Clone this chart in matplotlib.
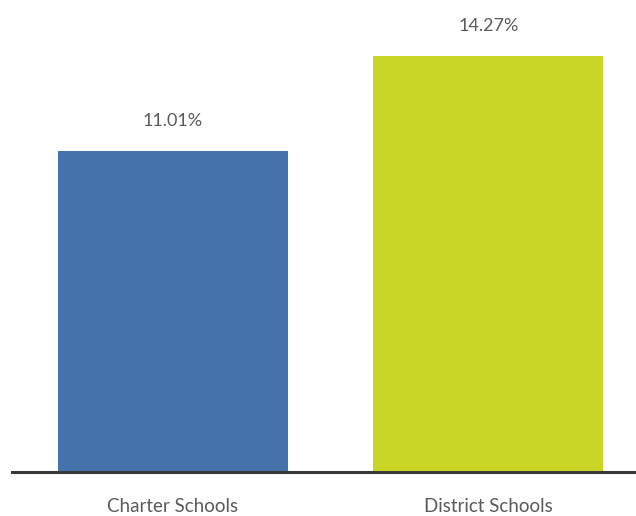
import matplotlib
matplotlib.use("Agg")
import matplotlib.pyplot as plt

categories = ["Charter Schools", "District Schools"]
values = [11.01, 14.27]
value_labels = ["11.01%", "14.27%"]
colors = ["#4672AC", "#C9D626"]

plt.rcParams["font.family"] = ["Lato", "DejaVu Sans"]
text_color = "#5a5a5a"

fig = plt.figure(figsize=(6.36, 5.16), dpi=100)
W, H = 636, 516
base_y = 472
ax = fig.add_axes([12 / W, (H - base_y) / H, 1 - 12 / W, base_y / H])

x = list(range(len(categories)))
ax.bar(x, values, width=0.729, color=colors, zorder=2)
ax.set_xlim(-0.51, 1.4675)
ax.set_ylim(0, 16.19)

for xi, v, lab in zip(x, values, value_labels):
    ax.annotate(lab, (xi, v), xytext=(0, 21.6), textcoords="offset points",
                ha="center", va="center", fontsize=13, color=text_color)

for xi, cat in zip(x, categories):
    ax.annotate(cat, (xi, 0), xytext=(0, -24.5), textcoords="offset points",
                ha="center", va="center", fontsize=13.5, color=text_color,
                annotation_clip=False)

for s in ["top", "right", "left"]:
    ax.spines[s].set_visible(False)
ax.spines["bottom"].set_color("#3a3a3a")
ax.spines["bottom"].set_linewidth(2.2)
ax.spines["bottom"].set_zorder(3)
ax.set_yticks([])
ax.set_xticks([])

fig.savefig("out.png", dpi=100)
